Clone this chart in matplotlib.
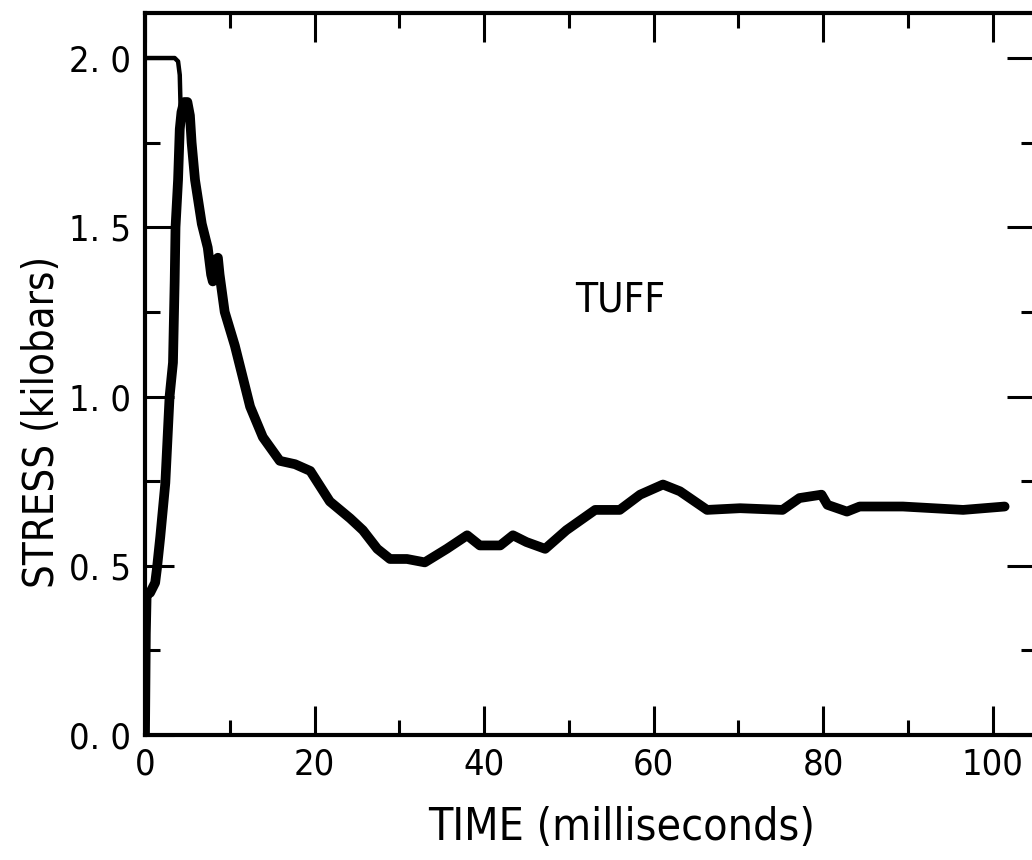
import matplotlib
matplotlib.use("Agg")
import matplotlib.pyplot as plt
from matplotlib.ticker import MultipleLocator, FixedLocator, FixedFormatter

# stress record for the tuff gauge (time in ms, stress in kbar)
time_ms = [0.0, 0.1, 0.2, 0.6, 1.2, 1.4, 1.8, 2.4, 2.9, 3.3, 3.5, 3.6, 3.9, 4.1,
           4.3, 4.6, 5.0, 5.3, 5.5, 5.9, 6.7, 7.4, 7.8, 8.0, 8.2, 8.6, 8.8, 9.4,
           10.6, 11.6, 12.4, 13.9, 15.9, 17.7, 19.5, 21.8, 24.2, 25.7, 27.4,
           28.9, 30.9, 33.0, 35.6, 38.0, 39.5, 41.9, 43.4, 45.0, 47.2, 49.7,
           53.1, 56.0, 58.4, 61.1, 63.1, 66.3, 70.2, 75.2, 77.2, 79.8, 80.5,
           82.8, 84.3, 89.4, 96.5, 101.4]
stress = [0.0, 0.30, 0.42, 0.42, 0.45, 0.49, 0.585, 0.745, 1.0, 1.10, 1.34, 1.5,
          1.64, 1.79, 1.84, 1.87, 1.87, 1.83, 1.75, 1.64, 1.51, 1.44, 1.36,
          1.34, 1.40, 1.41, 1.36, 1.25, 1.15, 1.05, 0.97, 0.88, 0.81, 0.80,
          0.78, 0.69, 0.64, 0.605, 0.55, 0.52, 0.52, 0.51, 0.55, 0.59, 0.56,
          0.56, 0.59, 0.57, 0.55, 0.605, 0.665, 0.665, 0.71, 0.74, 0.72,
          0.665, 0.67, 0.665, 0.70, 0.71, 0.68, 0.66, 0.675, 0.675, 0.665,
          0.675]

# off-scale portion held at the 2 kbar limit
clip_time = [0.0, 3.5, 3.9, 4.1, 4.2]
clip_stress = [2.0, 2.0, 1.99, 1.95, 1.85]

xticks = [0, 20, 40, 60, 80, 100]
yticks = [0.0, 0.5, 1.0, 1.5, 2.0]
ytick_labels = ["0. 0", "0. 5", "1. 0", "1. 5", "2. 0"]

# narrow lettering
plt.rcParams["font.family"] = ["DejaVu Sans"]
plt.rcParams["font.stretch"] = "condensed"

fig = plt.figure(figsize=(10.32, 8.6), dpi=100)
ax = fig.add_axes([145 / 1032, 125 / 860, 891 / 1032, 722 / 860])

ax.plot(time_ms, stress, color="black", lw=7, solid_capstyle="round",
        solid_joinstyle="round")
ax.plot(clip_time, clip_stress, color="black", lw=3.2, solid_joinstyle="round")

ax.set_xlim(0, 105.1)
ax.set_ylim(0, 2.133)

ax.xaxis.set_major_locator(FixedLocator(xticks))
ax.xaxis.set_minor_locator(MultipleLocator(10))
ax.yaxis.set_major_locator(FixedLocator(yticks))
ax.yaxis.set_major_formatter(FixedFormatter(ytick_labels))
ax.yaxis.set_minor_locator(MultipleLocator(0.25))

ax.tick_params(which="both", direction="in", top=True, right=True,
               width=2.2, color="black", labelsize=26)
ax.tick_params(which="major", length=21)
ax.tick_params(which="minor", length=11)
ax.tick_params(axis="y", pad=10)
ax.tick_params(axis="x", pad=9)

for s in ax.spines.values():
    s.set_linewidth(3)

ax.set_xlabel("TIME (milliseconds)", fontsize=32)
ax.xaxis.set_label_coords(0.535, -0.098)
ax.set_ylabel("STRESS (kilobars)", fontsize=30)
ax.yaxis.set_label_coords(-0.092, 0.434)

ax.text(56, 1.285, "TUFF", fontsize=29, ha="center", va="center")

fig.savefig("out.png", dpi=100)
